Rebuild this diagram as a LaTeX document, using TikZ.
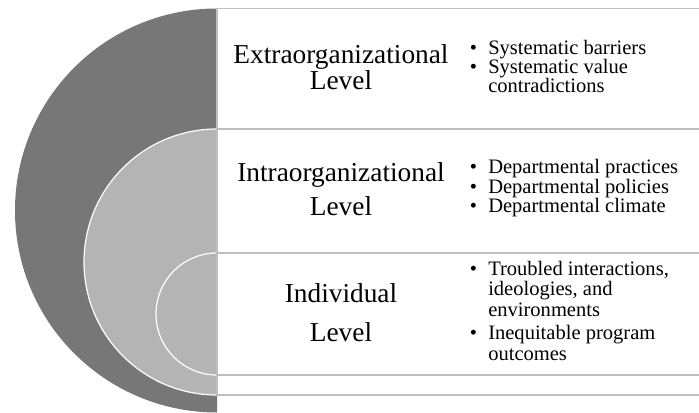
\documentclass[tikz,border=0pt]{standalone}
\usepackage{fontspec}
\setmainfont{Liberation Serif}
\definecolor{outerring}{HTML}{777777}
\definecolor{innerring}{HTML}{B4B4B4}
\definecolor{rulegray}{HTML}{BFBFBF}
\begin{document}
\begin{tikzpicture}[x=0.75pt,y=-0.75pt,
  title/.style={font=\fontsize{20.5}{24}\selectfont, anchor=base, inner sep=0pt,
    text height=0.68em, text depth=0.2em},
  entry/.style={font=\fontsize{15.4}{18}\selectfont, anchor=base west, inner sep=0pt,
    text height=0.68em, text depth=0.2em},
  dotmark/.style={entry},
  ring/.style={fill=innerring, draw=white, line width=0.9pt},
  sep/.style={draw=rulegray, line width=0.9pt}]
\useasboundingbox (0,0) rectangle (699,413);

% nested half discs on the left
\begin{scope}
  \clip (0,0) rectangle (217,413);
  \fill[outerring] (217,210.5) circle[radius=151.5pt];
  \draw[ring] (217,262) circle[radius=99.75pt];
  \draw[ring] (217,314) circle[radius=45.75pt];
\end{scope}

% level boxes
\draw[sep] (700,8.5) -- (217,8.5) -- (217,395) -- (700,395);
\foreach \yy in {129,253,375}
  \draw[sep] (217,\yy) -- (700,\yy);

% level titles
\node[title] (ext1) at (341,63.3)  {Extraorganizational};
\node[title] (ext2) at (341,89.3)  {Level};
\node[title] (int1) at (341,181.7) {Intraorganizational};
\node[title] (int2) at (341,215.3) {Level};
\node[title] (ind1) at (341,302.7) {Individual};
\node[title] (ind2) at (341,341.7) {Level};

% extraorganizational items
\node[dotmark] (eb1) at (469.7,54.3) {•};
\node[entry]   (ea1) at (488,54.3)   {Systematic barriers};
\node[dotmark] (eb2) at (469.7,73.4) {•};
\node[entry]   (ea2) at (488,73.4)   {Systematic value};
\node[entry]   (ea3) at (488,92.5)   {contradictions};

% intraorganizational items
\node[dotmark] (ib1) at (469.7,174)   {•};
\node[entry]   (ia1) at (488,174)     {Departmental practices};
\node[dotmark] (ib2) at (469.7,193.3) {•};
\node[entry]   (ia2) at (488,193.3)   {Departmental policies};
\node[dotmark] (ib3) at (469.7,212.3) {•};
\node[entry]   (ia3) at (488,212.3)   {Departmental climate};

% individual items
\node[dotmark] (db1) at (469.7,275.7) {•};
\node[entry]   (da1) at (488,275.7)   {Troubled interactions,};
\node[entry]   (da2) at (488,296)     {ideologies, and};
\node[entry]   (da3) at (488,316.5)   {environments};
\node[dotmark] (db2) at (469.7,339)   {•};
\node[entry]   (da4) at (488,339)     {Inequitable program};
\node[entry]   (da5) at (488,360)     {outcomes};
\end{tikzpicture}
\end{document}
